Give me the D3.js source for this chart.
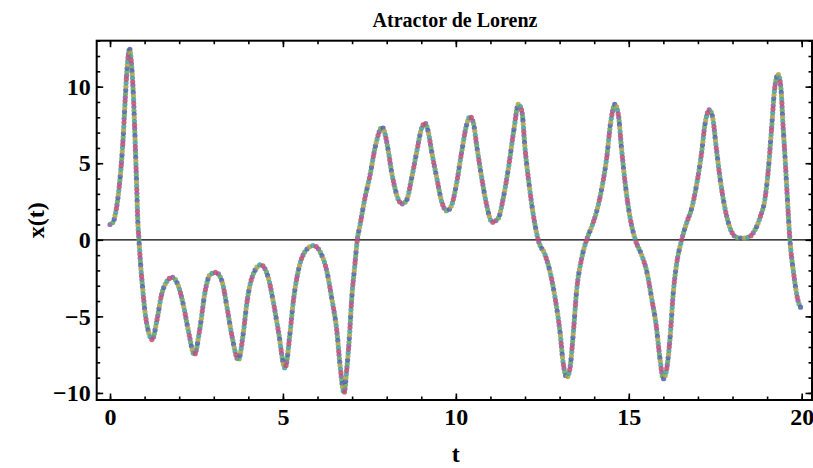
<!DOCTYPE html>
<html><head><meta charset="utf-8">
<script src="https://cdn.jsdelivr.net/npm/d3@7"></script>
<style>
html,body{margin:0;padding:0;background:#fff;}
text{font-family:"Liberation Serif","Times New Roman",serif;font-weight:bold;fill:#000;}
</style></head>
<body><svg id="c" width="813" height="468"></svg>
<script>
// Values
const tValues = [0.00,0.10,0.15,0.24,0.29,0.34,0.385,0.43,0.48,0.53,0.56,0.63,0.68,0.71,0.74,0.77,0.80,0.84,0.885,0.935,
1.01,1.11,1.22,1.35,1.49,1.64,1.80,1.98,2.12,2.27,2.44,2.60,2.75,2.89,3.06,3.24,3.37,3.52,3.71,3.86,
3.95,4.10,4.36,4.58,4.72,4.87,5.06,5.21,5.30,5.44,5.64,5.88,6.07,6.27,6.41,6.56,6.65,6.77,6.84,6.92,
6.99,7.08,7.15,7.23,7.37,7.52,7.66,7.87,8.05,8.14,8.24,8.34,8.45,8.58,8.72,8.87,9.01,9.11,9.20,9.30,
9.45,9.59,9.74,9.88,10.03,10.17,10.31,10.41,10.51,10.60,10.75,10.89,11.05,11.23,11.37,11.52,11.67,11.81,11.91,12.00,
12.12,12.24,12.38,12.58,12.72,12.87,13.01,13.11,13.21,13.30,13.40,13.49,13.64,13.78,13.93,14.07,14.22,14.36,14.48,14.60,
14.70,14.79,14.89,15.04,15.19,15.37,15.52,15.66,15.79,15.90,16.00,16.10,16.19,16.29,16.38,16.53,16.67,16.82,16.96,17.11,
17.20,17.33,17.43,17.52,17.64,17.78,17.93,18.12,18.31,18.50,18.65,18.79,18.94,19.03,19.13,19.22,19.32,19.40,19.46,19.52,
19.58,19.66,19.76,19.90,19.98];
const xValues = [1.0,1.2,1.63,2.94,4.0,5.33,6.85,8.8,10.76,12.07,12.5,11.2,9.24,7.5,5.55,3.6,1.42,-0.1,-1.63,-2.94,
-4.67,-5.98,-6.52,-5.32,-3.59,-2.72,-2.45,-3.04,-4.24,-5.98,-7.5,-5.76,-3.37,-2.28,-2.13,-2.72,-4.24,-6.2,-7.83,-5.98,
-4.24,-2.5,-1.63,-2.5,-4.02,-5.98,-8.37,-5.98,-4.02,-2.06,-0.76,-0.37,-0.76,-2.06,-3.8,-5.98,-8.15,-10.0,-8.59,-6.41,
-3.8,-1.63,0.0,0.98,2.72,4.24,5.98,7.35,5.77,4.46,3.37,2.61,2.35,2.61,4.02,5.77,7.29,7.61,7.07,5.77,
4.02,2.5,1.89,2.28,3.81,5.77,7.5,8.05,7.61,6.2,4.02,2.28,1.15,1.42,2.72,4.68,7.07,8.85,8.38,5.98,
3.59,1.63,0.0,-0.98,-2.06,-3.8,-5.98,-8.15,-8.98,-8.37,-5.98,-3.37,-1.19,0.0,0.87,1.85,3.37,5.33,7.72,8.85,
8.15,5.98,3.81,1.42,0.0,-0.98,-2.06,-3.8,-5.54,-7.72,-9.07,-8.37,-6.5,-3.37,-1.63,0.0,1.09,2.07,3.59,5.77,
7.5,8.48,7.94,6.2,4.02,2.07,0.76,0.16,0.11,0.22,0.65,1.42,2.72,4.46,7.29,9.9,10.8,9.9,7.5,5.33,
2.94,0.0,-2.06,-4.02,-4.45];
const xMajorTicks = [0,5,10,15,20];
const xMinorTicks = d3.range(0,21,1);
const yMajorTicks = [-10,-5,0,5,10];
const yMinorTicks = d3.range(-10,14,1);
const dotColors = ["#8d58aa","#5fa85c","#4b5fb3","#b0a03f","#3ea2a4","#bd4f6b"];
const title = "Atractor de Lorenz";
const xLabel = "t", yLabel = "x(t)";

const svg = d3.select("#c");
const L=96.7, R=812, T=40.7, B=400;
const x = d3.scaleLinear().domain([-0.385,20.298]).range([L,R]);
const y = d3.scaleLinear().domain([-10.46,13.0]).range([B,T]);
const data = tValues.map((t,i)=>({t, v:xValues[i]}));

// zero line
svg.append("line").attr("x1",L).attr("x2",R).attr("y1",y(0)).attr("y2",y(0))
  .attr("stroke","#000").attr("stroke-width",1.2);

// dotted data curve with cycling colours
const line = d3.line().x(d=>x(d.t)).y(d=>y(d.v)).curve(d3.curveMonotoneX);
const pathD = line(data);
const sp = 3.6, N = dotColors.length;
dotColors.forEach((c,k)=>{
  svg.append("path").attr("d",pathD).attr("fill","none").attr("stroke",c)
    .attr("stroke-width",5.2).attr("stroke-linecap","round")
    .attr("stroke-dasharray",`0 ${N*sp}`).attr("stroke-dashoffset",-k*sp)
    .attr("opacity",0.85);
});

// axes (ticks inward)
function styleAxis(g){ g.select(".domain").remove(); g.selectAll(".tick line").attr("stroke","#000").attr("stroke-width",1.6); }
const fs = 24;
svg.append("g").attr("transform",`translate(0,${B})`)
  .call(d3.axisBottom(x).tickValues(xMinorTicks).tickSize(-3.5).tickFormat(""))
  .call(styleAxis);
svg.append("g").attr("transform",`translate(0,${B})`)
  .call(d3.axisBottom(x).tickValues(xMajorTicks).tickSize(-6.5).tickPadding(8).tickFormat(d3.format("d")))
  .call(styleAxis).call(g=>g.selectAll("text").style("font-size",fs+"px").attr("font-family",null));
svg.append("g").attr("transform",`translate(0,${T})`)
  .call(d3.axisTop(x).tickValues(xMinorTicks).tickSize(-3.5).tickFormat("")).call(styleAxis);
svg.append("g").attr("transform",`translate(0,${T})`)
  .call(d3.axisTop(x).tickValues(xMajorTicks).tickSize(-6.5).tickFormat("")).call(styleAxis);
svg.append("g").attr("transform",`translate(${L},0)`)
  .call(d3.axisLeft(y).tickValues(yMinorTicks).tickSize(-3.5).tickFormat("")).call(styleAxis);
svg.append("g").attr("transform",`translate(${L},0)`)
  .call(d3.axisLeft(y).tickValues(yMajorTicks).tickSize(-6.5).tickPadding(6).tickFormat(d=>d<0?"\u2212"+Math.abs(d):d))
  .call(styleAxis).call(g=>g.selectAll("text").style("font-size",fs+"px").attr("font-family",null));
svg.append("g").attr("transform",`translate(${R},0)`)
  .call(d3.axisRight(y).tickValues(yMinorTicks).tickSize(-3.5).tickFormat("")).call(styleAxis);
svg.append("g").attr("transform",`translate(${R},0)`)
  .call(d3.axisRight(y).tickValues(yMajorTicks).tickSize(-6.5).tickFormat("")).call(styleAxis);

// frame
svg.append("rect").attr("x",L).attr("y",T).attr("width",R-L).attr("height",B-T)
  .attr("fill","none").attr("stroke","#000").attr("stroke-width",2);

// texts
svg.append("text").attr("x",455).attr("y",27).attr("text-anchor","middle").style("font-size","20px").text(title);
svg.append("text").attr("x",x(10)).attr("y",462).attr("text-anchor","middle").style("font-size","24px").text(xLabel);
svg.append("text").attr("transform",`translate(44,${(T+B)/2}) rotate(-90)`).attr("text-anchor","middle").style("font-size","24px").text(yLabel);
</script></body></html>
